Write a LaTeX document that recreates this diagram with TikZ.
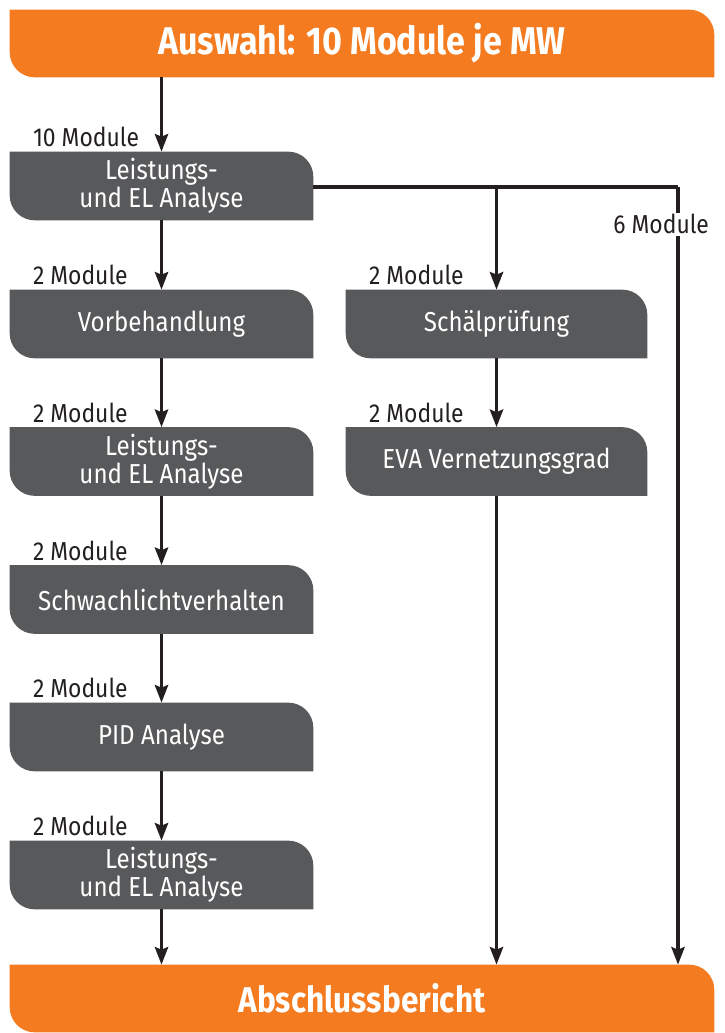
\documentclass[tikz,border=0pt]{standalone}
\usepackage{fontspec}
\setmainfont{Fira Sans}[FakeStretch=0.88]
\usepackage{tikz}
\usetikzlibrary{arrows.meta, calc, backgrounds}
\definecolor{orng}{HTML}{F47B20}
\definecolor{slate}{HTML}{58595B}
\definecolor{ink}{HTML}{231F20}

\begin{document}
\begin{tikzpicture}[x=0.02cm, y=-0.02cm, >={Stealth[length=10pt,width=7.5pt,inset=1.5pt]},
  blk/.style={minimum width=6.06cm, minimum height=1.36cm, inner sep=0pt, align=center,
    text=white, font=\fontsize{15.6}{13.2}\selectfont},
  head/.style={minimum width=14.08cm, minimum height=1.34cm, inner sep=0pt,
    text=white, font=\fontsize{22}{24}\selectfont\bfseries},
  line/.style={draw=ink, line width=2pt},
  cnt/.style={anchor=base west, inner sep=0pt, text=ink, font=\fontsize{14.8}{16}\selectfont}]
  \useasboundingbox (0,0) rectangle (724,1033);
  % boxes
  \node[head] (top) at (362,43.5) {Auswahl: 10 Module je MW};
  \node[blk] (l1) at (161.5,186) {Leistungs-\\und EL Analyse};
  \node[blk] (l2) at (161.5,324) {Vorbehandlung};
  \node[blk] (l3) at (161.5,461.5) {Leistungs-\\und EL Analyse};
  \node[blk] (l4) at (161.5,599.5) {Schwachlichtverhalten};
  \node[blk] (l5) at (161.5,737) {PID Analyse};
  \node[blk] (l6) at (161.5,875) {Leistungs-\\und EL Analyse};
  \node[blk, minimum width=6.02cm] (m1) at (496.5,324) {Schälprüfung};
  \node[blk, minimum width=6.02cm] (m2) at (496.5,461.5) {EVA Vernetzungsgrad};
  \node[head, font=\fontsize{20.4}{22}\selectfont\bfseries] (bot) at (362,998.5) {Abschlussbericht};
  \begin{scope}[on background layer]
    \foreach \n/\c in {top/orng, bot/orng, l1/slate, l2/slate, l3/slate, l4/slate,
                       l5/slate, l6/slate, m1/slate, m2/slate}
      \fill[\c] (\n.north west) -- ($(\n.north east)+(-25,0)$) arc[start angle=90, end angle=0, radius=0.5cm]
        -- (\n.south east) -- ($(\n.south west)+(25,0)$) arc[start angle=270, end angle=180, radius=0.5cm] -- cycle;
  \end{scope}
  % connectors
  \coordinate (rt) at (678,187);
  \draw[line, ->] (top.south -| l1.north) -- (l1.north);
  \draw[line, ->] (l1) -- (l2);
  \draw[line, ->] (l2) -- (l3);
  \draw[line, ->] (l3) -- (l4);
  \draw[line, ->] (l4) -- (l5);
  \draw[line, ->] (l5) -- (l6);
  \draw[line, ->] (l6) -- (l6.south |- bot.north);
  \draw[line] (l1.east |- rt) -- (rt);
  \draw[line, ->] (rt) -- (rt |- bot.north);
  \draw[line, ->] (m1.north |- rt) -- (m1.north);
  \draw[line, ->] (m1) -- (m2);
  \draw[line, ->] (m2) -- (m2.south |- bot.north);
  % counts
  \node[cnt] at ($(l1.north west)+(23,-5)$) {10 Module};
  \foreach \n in {l2, l3, l4, l5, l6, m1, m2}
    \node[cnt] at ($(\n.north west)+(23,-5)$) {2 Module};
  \node[cnt, anchor=base east, fill=white, inner sep=1pt] at (711,234) {6 Module};
\end{tikzpicture}
\end{document}
